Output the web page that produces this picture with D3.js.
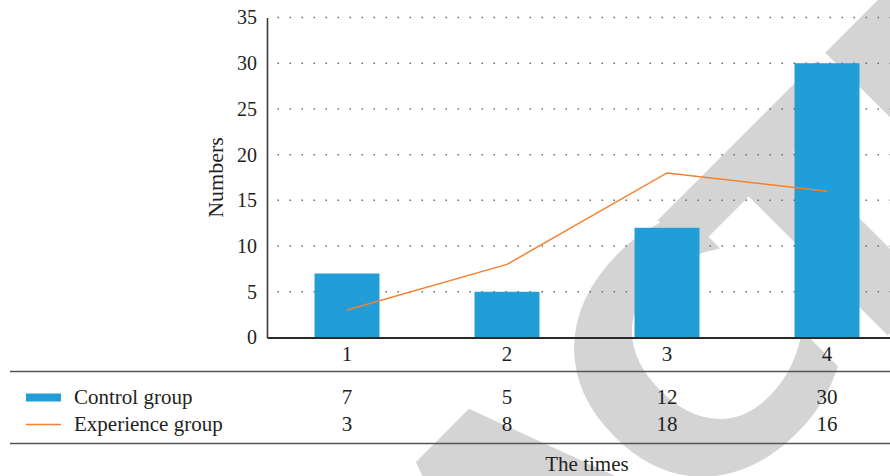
<!DOCTYPE html>
<html>
<head>
<meta charset="utf-8">
<script src="https://cdn.jsdelivr.net/npm/d3@7"></script>
<style>
  html, body { margin: 0; padding: 0; background: #fff; }
  svg { display: block; }
</style>
</head>
<body>
<svg id="chart" width="890" height="476"></svg>
<script>
// Data
const categories = ["1", "2", "3", "4"];
const controlGroup = [7, 5, 12, 30];
const experienceGroup = [3, 8, 18, 16];
const yTicks = [0, 5, 10, 15, 20, 25, 30, 35];
const seriesNames = ["Control group", "Experience group"];
const yTitle = "Numbers";
const xTitle = "The times";

const W = 890, H = 476;
const plot = { left: 267, right: 907, top: 17.5, bottom: 337.5 };
const barColor = "#219dd7";
const lineColor = "#f4812f";
const textColor = "#231f20";
const serif = "'Liberation Serif', 'Times New Roman', serif";
const fontSize = 21;

const svg = d3.select("#chart");

// Background stamp, drawn beneath everything else
svg.append("text")
  .attr("transform", "rotate(-45)")
  .attr("x", "-815 -610 -405 -200 5 232 422 630 835")
  .attr("y", 865)
  .attr("text-anchor", "middle")
  .style("font-family", "'DejaVu Sans', sans-serif")
  .style("font-weight", "bold")
  .style("font-size", "335px")
  .style("fill", "#d4d4d4")
  .text("RETRACTED");

const x = d3.scaleBand()
  .domain(categories)
  .range([plot.left, plot.right])
  .paddingInner(0.594)
  .paddingOuter(0.297);

const y = d3.scaleLinear()
  .domain([0, 35])
  .range([plot.bottom, plot.top]);

// Dotted horizontal grid
svg.append("g")
  .selectAll("line")
  .data(yTicks.filter(t => t > 0))
  .join("line")
  .attr("x1", plot.left)
  .attr("x2", W)
  .attr("y1", d => y(d))
  .attr("y2", d => y(d))
  .attr("stroke", "#6a6a6a")
  .attr("stroke-width", 1.5)
  .attr("stroke-dasharray", "1.5 10.5")
  .attr("stroke-dashoffset", -10.5);

// Bars
svg.append("g")
  .selectAll("rect")
  .data(controlGroup)
  .join("rect")
  .attr("x", (d, i) => x(categories[i]))
  .attr("width", x.bandwidth())
  .attr("y", d => y(d))
  .attr("height", d => y(0) - y(d))
  .attr("fill", barColor);

// Line series
const line = d3.line()
  .x((d, i) => x(categories[i]) + x.bandwidth() / 2)
  .y(d => y(d));
svg.append("path")
  .datum(experienceGroup)
  .attr("d", line)
  .attr("fill", "none")
  .attr("stroke", lineColor)
  .attr("stroke-width", 1.5);

// Y axis
const yAxis = svg.append("g")
  .attr("transform", `translate(${plot.left},0)`)
  .call(d3.axisLeft(y).tickValues(yTicks).tickSize(0).tickPadding(10).tickFormat(d3.format("d")));
yAxis.select(".domain").attr("stroke", "#3a3a3a").attr("stroke-width", 1.6);
yAxis.selectAll("text")
  .style("font-family", serif)
  .style("font-size", "20px")
  .attr("fill", textColor);

// X axis
const xAxis = svg.append("g")
  .attr("transform", `translate(0,${plot.bottom})`)
  .call(d3.axisBottom(x).tickSize(0).tickPadding(9));
xAxis.select(".domain").attr("stroke", "#2a2a2a").attr("stroke-width", 1.8);
xAxis.selectAll("text")
  .style("font-family", serif)
  .style("font-size", fontSize + "px")
  .attr("fill", textColor);

// Y title
svg.append("text")
  .attr("transform", `translate(223,${(plot.top + plot.bottom) / 2}) rotate(-90)`)
  .attr("text-anchor", "middle")
  .style("font-family", serif)
  .style("font-size", "22px")
  .attr("fill", textColor)
  .text(yTitle);

// Data table under the axis
const tableTop = 371.5, tableBottom = 443.5;
svg.append("g")
  .selectAll("line")
  .data([tableTop, tableBottom])
  .join("line")
  .attr("x1", 10).attr("x2", W)
  .attr("y1", d => d).attr("y2", d => d)
  .attr("stroke", "#555")
  .attr("stroke-width", 1.6);

const rows = [
  { name: seriesNames[0], values: controlGroup, baseline: 403.5 },
  { name: seriesNames[1], values: experienceGroup, baseline: 430.5 }
];

// Legend keys
svg.append("rect")
  .attr("x", 26).attr("y", 393.5)
  .attr("width", 35).attr("height", 8)
  .attr("fill", barColor);
svg.append("line")
  .attr("x1", 26).attr("x2", 61)
  .attr("y1", 424.5).attr("y2", 424.5)
  .attr("stroke", lineColor)
  .attr("stroke-width", 1.3);

const rowG = svg.append("g")
  .selectAll("g")
  .data(rows)
  .join("g");

rowG.append("text")
  .attr("x", 74)
  .attr("y", d => d.baseline)
  .style("font-family", serif)
  .style("font-size", fontSize + "px")
  .attr("fill", textColor)
  .text(d => d.name);

rowG.selectAll("text.val")
  .data(d => d.values.map((v, i) => ({ v, i, baseline: d.baseline })))
  .join("text")
  .attr("class", "val")
  .attr("x", d => x(categories[d.i]) + x.bandwidth() / 2)
  .attr("y", d => d.baseline)
  .attr("text-anchor", "middle")
  .style("font-family", serif)
  .style("font-size", fontSize + "px")
  .attr("fill", textColor)
  .text(d => d.v);

// X title
svg.append("text")
  .attr("x", (plot.left + plot.right) / 2)
  .attr("y", 471)
  .attr("text-anchor", "middle")
  .style("font-family", serif)
  .style("font-size", fontSize + "px")
  .attr("fill", textColor)
  .text(xTitle);
</script>
</body>
</html>
